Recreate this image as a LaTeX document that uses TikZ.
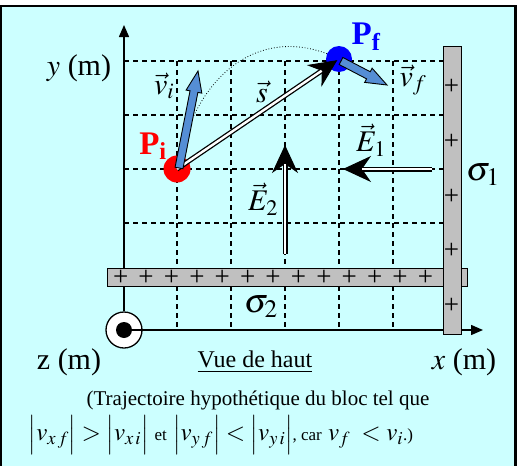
\documentclass[tikz,border=0pt]{standalone}
\usepackage{mathptmx}
\usepackage{fontspec}
\setmainfont{Liberation Serif}
\usetikzlibrary{arrows.meta,positioning,calc}
\definecolor{bgcyan}{RGB}{204,255,255}
\definecolor{bargray}{RGB}{192,192,192}
\definecolor{vecblue}{RGB}{85,142,213}
\newcommand{\lblfont}{\fontsize{30}{33}\selectfont}
\newcommand{\capfont}{\fontsize{21}{24}\selectfont}
\newcommand{\smallcap}{\fontsize{17}{20}\selectfont}
\newcommand{\mbar}{\mbox{\fontsize{22}{24}\selectfont$\Big|$}}
% block arrow from #1 to #2, named #3
\newcommand{\blockvec}[3]{%
    \coordinate (#3h) at ($(#2)!21pt!(#1)$);
    \draw[vecarrow] ($(#1)!4pt!90:(#2)$) -- ($(#3h)!4pt!90:(#2)$)
        -- ($(#3h)!8pt!90:(#2)$) -- (#2) -- ($(#3h)!8pt!-90:(#2)$)
        -- ($(#3h)!4pt!-90:(#2)$) -- ($(#1)!4pt!-90:(#2)$) -- cycle;}

\begin{document}
\begin{tikzpicture}[x=1pt,y=-1pt,
    gridline/.style={line width=1.2pt,dash pattern=on 5pt off 4pt},
    axis/.style={line width=1.5pt,-{Triangle[length=12pt,width=10pt]}},
    bar/.style={draw,fill=bargray,line width=1pt,inner sep=0pt},
    plus/.style={font=\fontsize{27}{27}\selectfont,inner sep=0pt},
    dot/.style={circle,inner sep=0pt},
    lbl/.style={font=\lblfont,inner sep=0pt},
    sig/.style={font=\fontsize{34}{36}\selectfont,inner sep=0pt},
    plbl/.style={font=\fontsize{33}{36}\selectfont\bfseries,inner sep=0pt},
    shaft/.style={double=white,double distance=2.4pt,line width=1.3pt},
    head/.style={line width=1pt,-{Stealth[length=28pt,width=26pt,inset=9pt]}},
    vecarrow/.style={draw,fill=vecblue,line width=0.9pt,line join=miter}
]
    % frame
    \fill[white] (0,0) rectangle (517,466);
    \useasboundingbox (0,0) rectangle (517,466);
    \fill[bgcyan] (1,6) rectangle (514,466);
    \draw[line width=1.5pt] (1,466) -- (1,6) -- (514,6);
    \fill (514,5) rectangle (517,466);

    % grid
    \foreach \gy in {61,115,169,223}
        \draw[gridline] (124,\gy) -- (443,\gy);
    \foreach \gx in {177,231,285,339,393}
        \draw[gridline] (\gx,61) -- (\gx,328);

    % axes
    \node[dot,draw,fill=white,line width=1.3pt,minimum size=36pt] (O) at (124,330) {};
    \fill (O.center) circle (8pt);
    \coordinate (xtip) at (483,330);
    \coordinate (ytip) at (124,25);
    \draw[axis] (O.center) -- (xtip);
    \draw[axis] (O.north) -- (ytip);

    % charged plates
    \node[bar,minimum width=360pt,minimum height=18pt] (sigtwo) at (287,277) {};
    \foreach \k in {0,...,12}
        \node[plus] (ptwo-\k) at (120.7+25.4*\k,278) {+};
    \node[bar,minimum width=18pt,minimum height=288pt] (sigone) at (452,190) {};
    \foreach \k in {0,...,4}
        \node[plus] (pone-\k) at (451.5,87+54.7*\k) {+};

    % trajectory
    \coordinate (Pic) at (177,169);
    \coordinate (Pfc) at (339,59);
    \draw[dotted,line width=0.8pt] (Pic) .. controls (195,70) and (265,22) .. (Pfc);
    \node[dot,fill=red,minimum size=27pt] (Pi) at (Pic) {};
    \node[dot,fill=blue,minimum size=26pt] (Pf) at (Pfc) {};

    % displacement
    \draw[head,shorten >=2pt] (Pi.center) -- (Pf.center);
    \draw[shaft,shorten >=21pt] (Pi.center) -- (Pf.center);

    % velocities
    \coordinate (vitail) at (179,168);
    \coordinate (vitip) at (198,71);
    \coordinate (vftail) at (341,61);
    \coordinate (vftip) at (387,85);
    \blockvec{vitail}{vitip}{vi}
    \blockvec{vftail}{vftip}{vf}

    % fields
    \coordinate (Eonestart) at (432,169);
    \coordinate (Eoneend) at (343,169);
    \coordinate (Etwostart) at (285,254);
    \coordinate (Etwoend) at (285,145);
    \draw[head] (Eonestart) -- (Eoneend);
    \draw[shaft,shorten >=19pt] (Eonestart) -- (Eoneend);
    \draw[head] (Etwostart) -- (Etwoend);
    \draw[shaft,shorten >=19pt] (Etwostart) -- (Etwoend);

    % labels
    \node[plbl,text=red] (Pilbl) at (153,146) {P\textsubscript{i}};
    \node[plbl,text=blue] (Pflbl) at (366,37) {P\textsubscript{f}};
    \node[lbl] (vilbl) at (164,86) {$\vec{v}_i$};
    \node[lbl] (vflbl) at (413,80) {$\vec{v}_f$};
    \node[lbl] (slbl) at (262,92) {$\vec{s}$};
    \node[lbl] (Eonelbl) at (371,140) {$\vec{E}_1$};
    \node[lbl] (Etwolbl) at (263,199) {$\vec{E}_2$};
    \node[sig] (sigonelbl) at (483,175) {$\sigma_1$};
    \node[sig] (sigtwolbl) at (261,307) {$\sigma_2$};
    \node[lbl] (ylbl) at (79,68) {$y$ (m)};
    \node[lbl] (zlbl) at (69,362) {z (m)};
    \node[lbl] (xlbl) at (464,362) {$x$ (m)};
    \node[font=\fontsize{24}{28}\selectfont,inner sep=0pt] (title) at (255,362) {\underline{Vue de haut}};
    \node[font=\capfont,inner sep=0pt] (capone) at (258,400) {(Trajectoire hypothétique du bloc tel que};
    \node[font=\fontsize{25}{28}\selectfont,inner sep=0pt] (captwo) at (221,435)
        {$\mbar v_{x\,f}\mbar>\mbar v_{x\,i}\mbar$ {\smallcap et}
         $\mbar v_{y\,f}\mbar<\mbar v_{y\,i}\mbar${\smallcap, car} $v_{f}\;<v_{i}$\smallcap.)};
\end{tikzpicture}
\end{document}
